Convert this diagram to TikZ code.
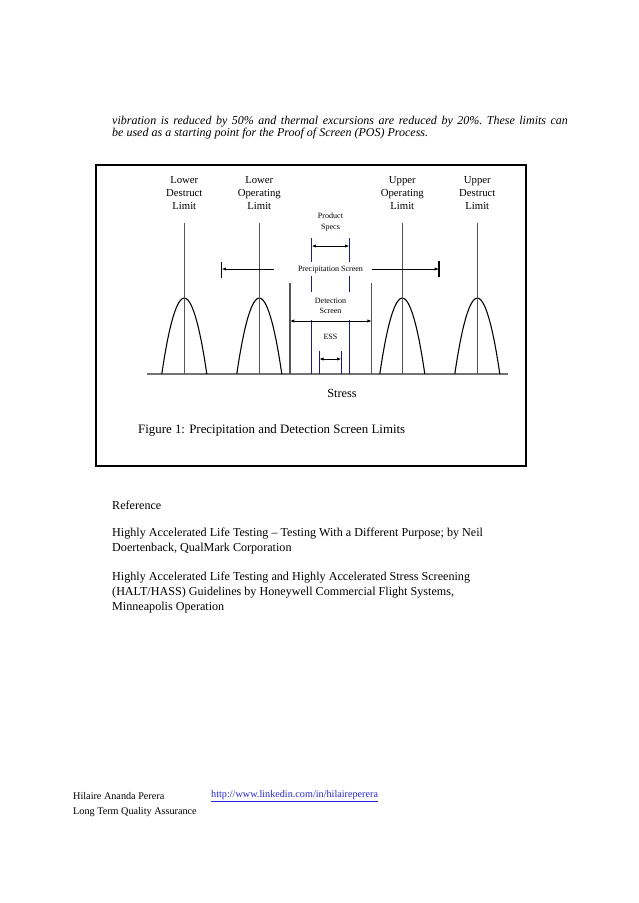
\documentclass[tikz,border=0pt]{standalone}
\usepackage{fontspec}
\setmainfont{Liberation Serif}
\usetikzlibrary{arrows.meta}
\definecolor{limitgray}{RGB}{85,85,85}
\definecolor{axisgray}{RGB}{115,115,115}
\definecolor{screennavy}{RGB}{28,28,112}
\definecolor{linkblue}{RGB}{40,40,210}
\tikzset{
  >={Latex[length=4pt,width=3pt]},
  diagframe/.style={draw=black,line width=1pt},
  stressaxis/.style={draw=axisgray,line width=1.7pt},
  limitline/.style={draw=limitgray,line width=1.4pt},
  screenline/.style={draw=screennavy,line width=1pt},
  bell/.style={draw=black,line width=1pt},
  spanarrow/.style={<->,draw=black,line width=0.7pt},
  reacharrow/.style={->,draw=black,line width=0.7pt},
  stopbar/.style={draw=black,line width=1pt},
  limitlabel/.style={font=\fontsize{10}{11.7}\selectfont,align=center,inner sep=0pt},
  smalllabel/.style={font=\fontsize{7.5}{9.9}\selectfont,align=center,inner sep=0pt},
  stresslabel/.style={font=\fontsize{11.5}{13}\selectfont,inner sep=0pt},
  captiontext/.style={font=\fontsize{12}{13}\selectfont,anchor=west,inner sep=0pt},
  leadtext/.style={font=\fontsize{11.2}{11.5}\selectfont\itshape\frenchspacing,anchor=west,inner sep=0pt},
  bodytext/.style={font=\fontsize{11.3}{14.2}\selectfont,align=left,anchor=west,inner sep=0pt},
  foottext/.style={font=\fontsize{9.5}{11}\selectfont,anchor=west,inner sep=0pt}
}

\begin{document}
\begin{tikzpicture}[x=0.9326pt,y=-0.9326pt]
  \useasboundingbox (0,0) rectangle (638,903);
  \fill[white] (0,0) rectangle (638,903);

  % Lead-in text
  \node[leadtext] (leadone) at (112,121.5)
    {\makebox[425pt][s]{vibration is reduced by 50\% and thermal excursions are reduced by 20\%. These limits can}};
  \node[leadtext] (leadtwo) at (112,133.5)
    {be used as a starting point for the Proof of Screen (POS) Process.};

  % Figure frame
  \draw[diagframe] (96,165) rectangle (526,466);

  % Stress axis
  \coordinate (axisL) at (147,374);
  \coordinate (axisR) at (508,374);
  \draw[stressaxis] (axisL) -- (axisR);
  \node[stresslabel] (stress) at (342,393) {Stress};

  % Limits and their spread
  \foreach \nm/\xx/\first/\second in {
    ldl/184.3/Lower/Destruct,
    lol/259.3/Lower/Operating,
    uol/402.3/Upper/Operating,
    udl/477.3/Upper/Destruct
  } {
    \draw[bell] (\xx-22.5,374) parabola bend (\xx,298) (\xx+22.5,374);
    \coordinate (\nm top) at (\xx,223);
    \coordinate (\nm foot) at (\xx,374);
    \draw[limitline] (\nm top) -- (\nm foot);
    \node[limitlabel] (\nm) at (\xx,193) {\first\\\second\\Limit};
  }

  % Product specs
  \foreach \nm/\xx in {specL/311.7, specR/349.3} {
    \draw[screenline] (\xx,238) -- (\xx,262);
    \draw[screenline] (\xx,276) -- (\xx,292);
    \draw[screenline] (\xx,320) -- (\xx,374);
    \coordinate (\nm) at (\xx,246);
  }
  \node[smalllabel] (specs) at (330.5,222) {Product\\Specs};
  \draw[spanarrow] (specL) -- (specR);

  % Precipitation screen
  \node[smalllabel] (precip) at (330.5,270) {Precipitation Screen};
  \coordinate (precipLfrom) at (274,269);
  \coordinate (precipL) at (221.7,269);
  \coordinate (precipRfrom) at (372,269);
  \coordinate (precipR) at (439,269);
  \draw[reacharrow] (precipLfrom) -- (precipL);
  \draw[reacharrow] (precipRfrom) -- (precipR);
  \draw[stopbar] (221.7,261.5) -- (221.7,277.5);
  \draw[stopbar] (439,261) -- (439,277);

  % Detection screen
  \foreach \nm/\xx in {detL/290, detR/371.7} {
    \draw[limitline] (\xx,283.3) -- (\xx,374);
    \coordinate (\nm) at (\xx,321);
  }
  \node[smalllabel] (detect) at (330.5,305.8) {Detection\\Screen};
  \draw[spanarrow] (detL) -- (detR);

  % ESS
  \foreach \nm/\xx in {essL/319.3, essR/341.3} {
    \draw[screenline] (\xx,351) -- (\xx,374);
    \coordinate (\nm) at (\xx,359);
  }
  \node[smalllabel] (ess) at (330.5,337) {ESS};
  \draw[spanarrow] (essL) -- (essR);

  % Caption
  \node[captiontext] (caption) at (138,430)
    {Figure 1: Precipitation and Detection Screen Limits};

  % References
  \node[bodytext] (refhead) at (112,505) {Reference};
  \node[bodytext] (refone) at (112,541.3)
    {Highly Accelerated Life Testing -- Testing With a Different Purpose; by Neil\\
     Doertenback, QualMark Corporation};
  \node[bodytext] (reftwo) at (112,592.5)
    {Highly Accelerated Life Testing and Highly Accelerated Stress Screening\\
     (HALT/HASS) Guidelines by Honeywell Commercial Flight Systems,\\
     Minneapolis Operation};

  % Footer
  \node[foottext] (author) at (73,796) {Hilaire Ananda Perera};
  \node[foottext,text=linkblue] (link) at (211,796)
    {\underline{http://www.linkedin.com/in/hilaireperera}};
  \node[foottext] (role) at (73,812) {Long Term Quality Assurance};
\end{tikzpicture}
\end{document}
